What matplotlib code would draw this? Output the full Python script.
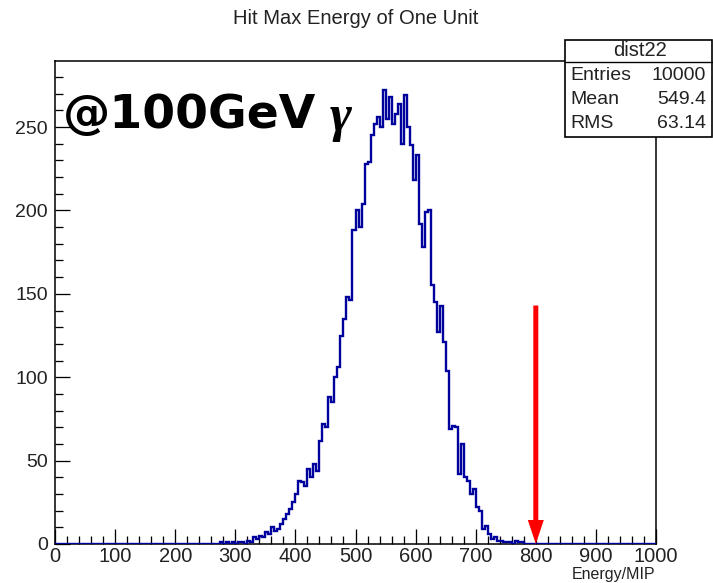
import numpy as np
import matplotlib
matplotlib.use("Agg")
import matplotlib.pyplot as plt
from matplotlib.patches import Rectangle
from matplotlib.lines import Line2D
from matplotlib.ticker import MultipleLocator

# ---- data ----
title = "Hit Max Energy of One Unit"
x_label = "Energy/MIP"
x_range = [0, 1000]
bin_width = 5
first_bin = 270
counts = [0, 1, 0, 1, 0, 1, 0, 1, 1, 0,      # 270-315
          2, 1, 4, 3, 5, 4, 7, 6, 10, 8,     # 320-365
          9, 12, 15, 18, 21, 25, 30, 38, 37, 35,   # 370-415
          45, 40, 48, 44, 62, 72, 70, 88, 85, 100, # 420-465
          106, 125, 135, 148, 146, 188, 200, 190, 204, 228,  # 470-515
          229, 245, 252, 256, 250, 272, 255, 268, 252, 258,  # 520-565
          264, 240, 269, 250, 239, 218, 233, 192, 178, 199,  # 570-615
          200, 155, 145, 127, 143, 121, 104, 69, 71, 70,     # 620-665
          42, 60, 40, 38, 30, 33, 22, 20, 9, 11,             # 670-715
          6, 3, 4, 2, 2, 1, 1, 1, 0, 2, 1, 1, 0]             # 720-780
y_max = 289.6
stats_name = "dist22"
stats_rows = [("Entries", "10000"), ("Mean", "549.4"), ("RMS", "63.14")]
annotation = "@100GeV"
particle = "γ"
arrow_x = 800
arrow_top = 143

# ---- figure ----
W, H = 713, 583
PT = 0.72  # points per pixel at 100 dpi
fig = plt.figure(figsize=(W / 100, H / 100), dpi=100)
ax = fig.add_axes([55 / W, 1 - 544 / H, (656 - 55) / W, (544 - 61) / H])

nbins = int((x_range[1] - x_range[0]) / bin_width)
edges = np.linspace(x_range[0], x_range[1], nbins + 1)
vals = np.zeros(nbins)
i0 = int((first_bin - x_range[0]) / bin_width)
vals[i0:i0 + len(counts)] = counts
ax.stairs(vals, edges, color="#00009c", linewidth=1.7, zorder=3)

ax.set_xlim(*x_range)
ax.set_ylim(0, y_max)

ax.xaxis.set_major_locator(MultipleLocator(100))
ax.xaxis.set_minor_locator(MultipleLocator(20))
ax.yaxis.set_major_locator(MultipleLocator(50))
ax.yaxis.set_minor_locator(MultipleLocator(10))
ax.tick_params(which="both", direction="in", top=False, right=False,
               width=1.0 * PT * 1.3, color="black")
ax.tick_params(which="major", length=15 * PT)
ax.tick_params(which="minor", length=8 * PT)
ax.tick_params(axis="x", which="major", pad=2, labelsize=14.5, labelcolor="#222222")
ax.tick_params(axis="y", which="major", pad=5, labelsize=14, labelcolor="#222222")
for lab in ax.get_xticklabels() + ax.get_yticklabels():
    lab.set_family("Liberation Sans")
for s in ax.spines.values():
    s.set_linewidth(1.1)

fig.text(356 / W, 1 - 18 / H, title, ha="center", va="center",
         fontsize=14.5, family="Liberation Sans", color="#222222")
fig.text(655 / W, 1 - 574 / H, x_label, ha="right", va="center",
         fontsize=11.5, family="Liberation Sans", color="#222222")

# annotation text
fig.text(63 / W, 1 - 115 / H, annotation, ha="left", va="center",
         fontsize=34, fontweight="bold", family="DejaVu Sans", color="black")
fig.text(330 / W, 1 - 118 / H, particle, ha="left", va="center",
         fontsize=38, fontweight="bold", style="italic",
         family="Liberation Serif", color="black")

# red arrow
ax.annotate("", xy=(arrow_x, 0), xytext=(arrow_x, arrow_top),
            arrowprops=dict(width=5 * PT, headwidth=16 * PT, headlength=24 * PT,
                            facecolor="red", edgecolor="red", lw=0,
                            shrink=0),
            zorder=5)

# stats box
bx0, bx1, by0, by1, bhead = 565, 712, 40, 137, 62
fig.patches.append(Rectangle((bx0 / W, 1 - by1 / H), (bx1 - bx0) / W, (by1 - by0) / H,
                             transform=fig.transFigure, facecolor="white",
                             edgecolor="black", linewidth=1.2, zorder=10))
fig.lines.append(Line2D([bx0 / W, bx1 / W], [1 - bhead / H, 1 - bhead / H],
                        transform=fig.transFigure, color="black", lw=1.0, zorder=11))
fig.text((bx0 + bx1) / 2 / W + 1 / W, 1 - 51 / H, stats_name, ha="center", va="center",
         fontsize=14.5, family="Liberation Sans", zorder=12, color="#222222")
for k, (name, val) in enumerate(stats_rows):
    yy = 1 - (75 + 24 * k) / H
    fig.text(570 / W, yy, name, ha="left", va="center", fontsize=14,
             family="Liberation Sans", zorder=12, color="#222222")
    fig.text(706 / W, yy, val, ha="right", va="center", fontsize=14,
             family="Liberation Sans", zorder=12, color="#222222")

fig.savefig("out.png", dpi=100)
